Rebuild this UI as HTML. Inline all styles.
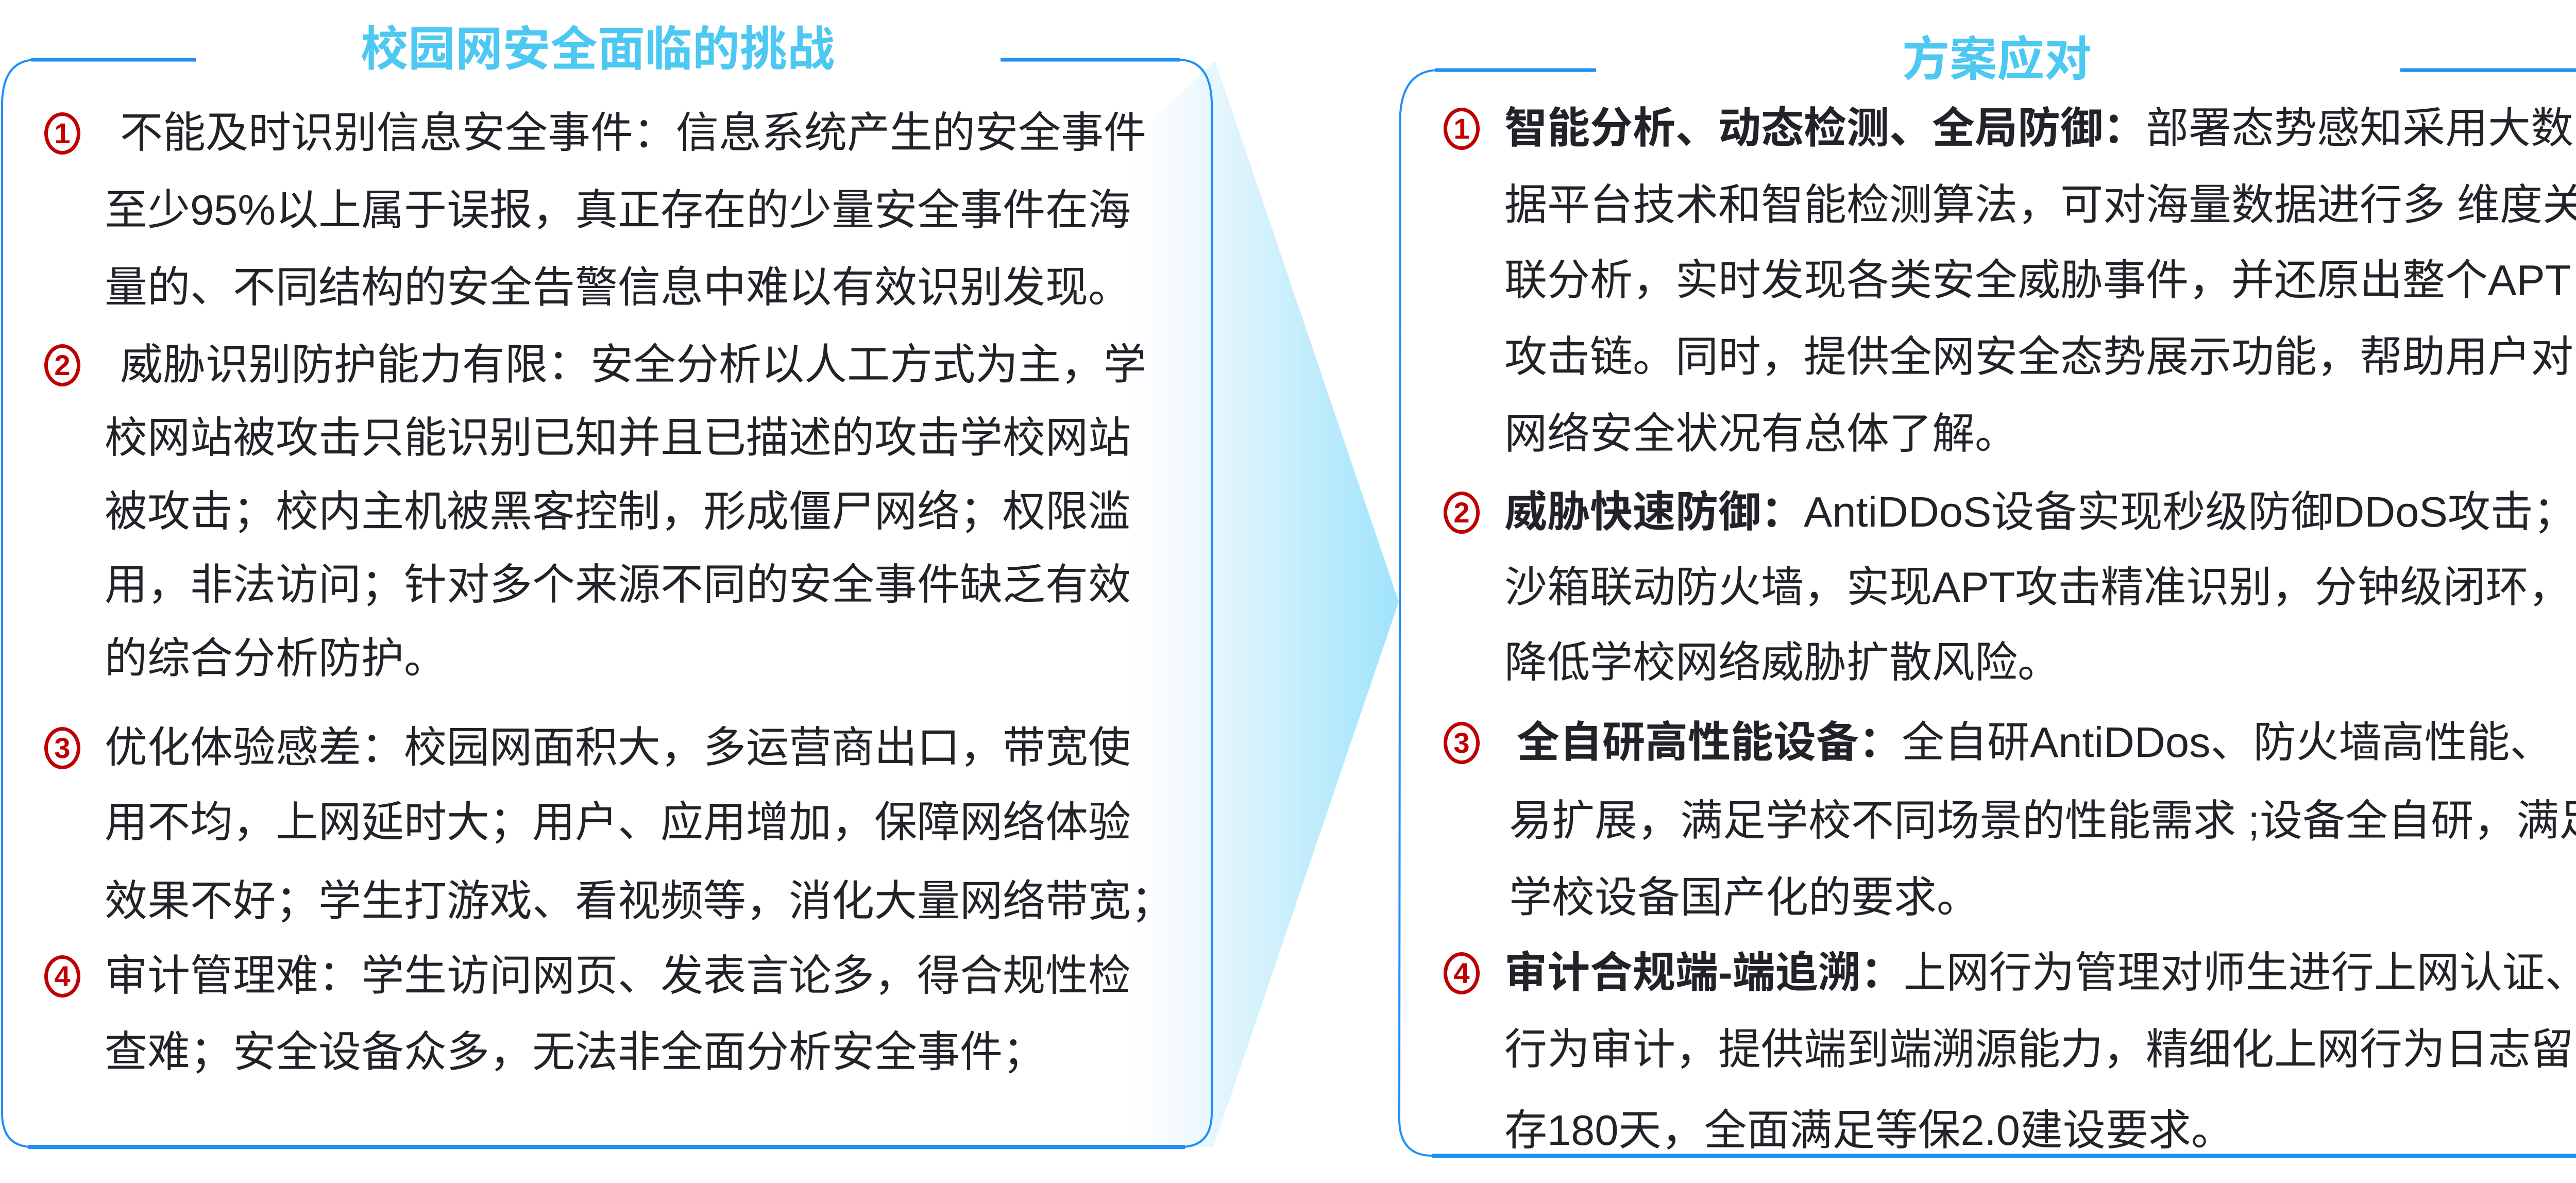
<!DOCTYPE html>
<html><head><meta charset="utf-8">
<style>
html,body{margin:0;padding:0;background:#fff;}
body{width:5078px;height:2296px;position:relative;overflow:hidden;font-family:"Liberation Sans","Noto Sans CJK SC",sans-serif;}
.l{position:absolute;font-size:83px;line-height:120px;height:120px;white-space:nowrap;color:#222228;}
.m{position:absolute;box-sizing:border-box;width:70px;height:82px;margin-top:20px;border:7px solid #c00000;border-radius:50%;color:#c00000;font-family:"Liberation Sans",sans-serif;font-weight:bold;font-size:56px;line-height:68px;text-align:center;}
b{font-weight:bold;}
.t{position:absolute;font-size:92px;font-weight:bold;color:#4cc8f2;line-height:100px;white-space:nowrap;font-family:"Liberation Sans","Noto Sans CJK SC",sans-serif;}
</style></head><body>
<svg width="5078" height="2296" style="position:absolute;left:0;top:0">
<defs>
<linearGradient id="g" x1="2150" y1="0" x2="2715" y2="0" gradientUnits="userSpaceOnUse">
<stop offset="0" stop-color="#ffffff" stop-opacity="0"/>
<stop offset="0.25" stop-color="#f3fafe"/>
<stop offset="1" stop-color="#9fe3fb"/>
</linearGradient>
</defs>
<polygon points="1900,560 2358,117 2715,1168 2355,2226 1900,2226" fill="url(#g)"/>
<path d="M380,116 L70,116 Q6,116 4,200 L4,2160 Q4,2224 60,2226 L2295,2226 Q2352,2224 2352,2160 L2352,200 Q2350,118 2290,116 L1942,116" fill="none" stroke="#1e90f5" stroke-width="4"/>
<line x1="55" y1="2226" x2="2300" y2="2226" stroke="#1e90f5" stroke-width="8"/>
<line x1="60" y1="116" x2="380" y2="116" stroke="#1e90f5" stroke-width="7"/>
<line x1="1942" y1="116" x2="2290" y2="116" stroke="#1e90f5" stroke-width="7"/>
<path d="M3098,136 L2790,136 Q2724,138 2718,220 L2716,2175 Q2718,2243 2780,2243 L5010,2243 Q5072,2243 5073,2175 L5073,220 Q5068,138 5010,136 L4659,136" fill="none" stroke="#1e90f5" stroke-width="4"/>
<line x1="2780" y1="2243" x2="5010" y2="2243" stroke="#1e90f5" stroke-width="8"/>
<line x1="2785" y1="136" x2="3098" y2="136" stroke="#1e90f5" stroke-width="7"/>
<line x1="4659" y1="136" x2="5010" y2="136" stroke="#1e90f5" stroke-width="7"/>
</svg>

<div class="t" style="left:700px;top:46px;">校园网安全面临的挑战</div>
<div class="t" style="left:3692px;top:66px;">方案应对</div>

<div class="m" style="left:86px;top:198px;">1</div>
<div class="l" style="left:233px;top:198px;">不能及时识别信息安全事件：信息系统产生的安全事件</div>
<div class="l" style="left:203px;top:348px;">至少95%以上属于误报，真正存在的少量安全事件在海</div>
<div class="l" style="left:203px;top:498px;">量的、不同结构的安全告警信息中难以有效识别发现。</div>
<div class="m" style="left:86px;top:648px;">2</div>
<div class="l" style="left:233px;top:648px;">威胁识别防护能力有限：安全分析以人工方式为主，学</div>
<div class="l" style="left:203px;top:790px;">校网站被攻击只能识别已知并且已描述的攻击学校网站</div>
<div class="l" style="left:203px;top:933px;">被攻击；校内主机被黑客控制，形成僵尸网络；权限滥</div>
<div class="l" style="left:203px;top:1075px;">用，非法访问；针对多个来源不同的安全事件缺乏有效</div>
<div class="l" style="left:203px;top:1218px;">的综合分析防护。</div>
<div class="m" style="left:86px;top:1391px;">3</div>
<div class="l" style="left:203px;top:1391px;">优化体验感差：校园网面积大，多运营商出口，带宽使</div>
<div class="l" style="left:203px;top:1536px;">用不均，上网延时大；用户、应用增加，保障网络体验</div>
<div class="l" style="left:203px;top:1689px;">效果不好；学生打游戏、看视频等，消化大量网络带宽；</div>
<div class="m" style="left:86px;top:1834px;">4</div>
<div class="l" style="left:203px;top:1834px;">审计管理难：学生访问网页、发表言论多，得合规性检</div>
<div class="l" style="left:203px;top:1982px;">查难；安全设备众多，无法非全面分析安全事件；</div>

<div class="m" style="left:2802px;top:189px;">1</div>
<div class="l" style="left:2920px;top:189px;"><b>智能分析、动态检测、全局防御：</b>部署态势感知采用大数</div>
<div class="l" style="left:2920px;top:338px;">据平台技术和智能检测算法，可对海量数据进行多 维度关</div>
<div class="l" style="left:2920px;top:484px;">联分析，实时发现各类安全威胁事件，并还原出整个APT</div>
<div class="l" style="left:2920px;top:633px;">攻击链。同时，提供全网安全态势展示功能，帮助用户对</div>
<div class="l" style="left:2920px;top:782px;">网络安全状况有总体了解。</div>
<div class="m" style="left:2802px;top:934px;">2</div>
<div class="l" style="left:2920px;top:934px;"><b>威胁快速防御：</b>AntiDDoS设备实现秒级防御DDoS攻击；</div>
<div class="l" style="left:2920px;top:1080px;">沙箱联动防火墙，实现APT攻击精准识别，分钟级闭环，</div>
<div class="l" style="left:2920px;top:1226px;">降低学校网络威胁扩散风险。</div>
<div class="m" style="left:2802px;top:1381px;">3</div>
<div class="l" style="left:2944px;top:1381px;"><b>全自研高性能设备：</b>全自研AntiDDos、防火墙高性能、</div>
<div class="l" style="left:2929px;top:1533px;">易扩展，满足学校不同场景的性能需求 ;设备全自研，满足</div>
<div class="l" style="left:2929px;top:1682px;">学校设备国产化的要求。</div>
<div class="m" style="left:2802px;top:1828px;">4</div>
<div class="l" style="left:2920px;top:1828px;"><b>审计合规端-端追溯：</b>上网行为管理对师生进行上网认证、</div>
<div class="l" style="left:2920px;top:1977px;">行为审计，提供端到端溯源能力，精细化上网行为日志留</div>
<div class="l" style="left:2920px;top:2134px;">存180天，全面满足等保2.0建设要求。</div>
</body></html>
